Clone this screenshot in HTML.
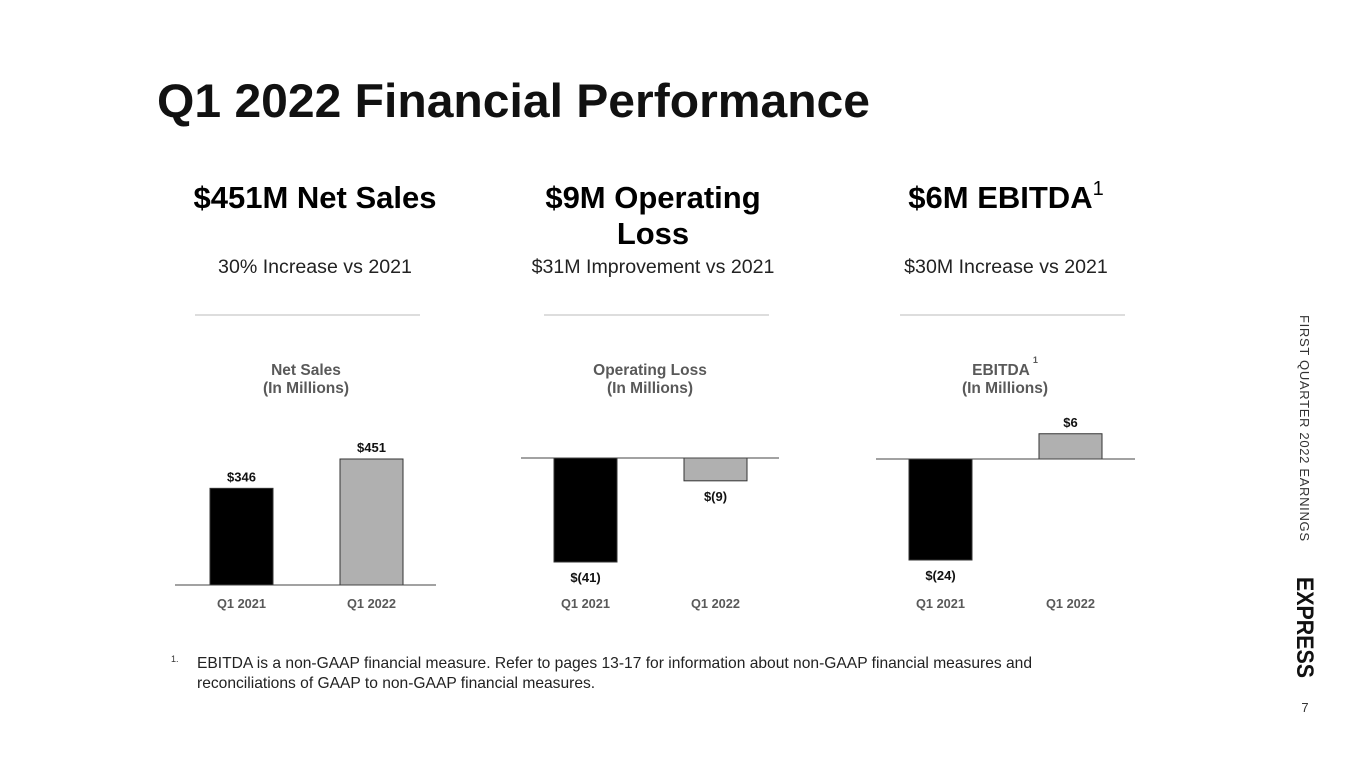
<!DOCTYPE html>
<html><head><meta charset="utf-8"><style>
html,body{margin:0;padding:0;background:#fff;}
svg{display:block;font-family:"Liberation Sans",Arial,sans-serif;}
</style></head><body>
<svg width="1365" height="768" viewBox="0 0 1365 768" xmlns="http://www.w3.org/2000/svg" id="slide">
<text x="157" y="117" font-size="47" font-weight="bold" fill="#111" textLength="713" lengthAdjust="spacingAndGlyphs">Q1 2022 Financial Performance</text>

<text x="315" y="208" font-size="31" font-weight="bold" text-anchor="middle">$451M Net Sales</text>
<text x="315" y="273" font-size="19.6" text-anchor="middle" fill="#222">30% Increase vs 2021</text>
<line x1="195" y1="315" x2="420" y2="315" stroke="#bbb"/>

<text x="653" y="208" font-size="31" font-weight="bold" text-anchor="middle">$9M Operating</text>
<text x="653" y="244" font-size="31" font-weight="bold" text-anchor="middle">Loss</text>
<text x="653" y="273" font-size="19.6" text-anchor="middle" fill="#222">$31M Improvement vs 2021</text>
<line x1="544" y1="315" x2="769" y2="315" stroke="#bbb"/>

<text x="1006" y="208" font-size="31" font-weight="bold" text-anchor="middle">$6M EBITDA<tspan font-size="20" font-weight="normal" dy="-13">1</tspan></text>
<text x="1006" y="273" font-size="19.6" text-anchor="middle" fill="#222">$30M Increase vs 2021</text>
<line x1="900" y1="315" x2="1125" y2="315" stroke="#bbb"/>

<text x="306" y="375" font-size="15.5" font-weight="bold" fill="#595959" text-anchor="middle">Net Sales</text>
<text x="306" y="393" font-size="15.5" font-weight="bold" fill="#595959" text-anchor="middle">(In Millions)</text>
<text x="650" y="375" font-size="15.5" font-weight="bold" fill="#595959" text-anchor="middle">Operating Loss</text>
<text x="650" y="393" font-size="15.5" font-weight="bold" fill="#595959" text-anchor="middle">(In Millions)</text>
<text x="1005" y="375" font-size="15.5" font-weight="bold" fill="#595959" text-anchor="middle">EBITDA<tspan font-size="9" dy="-12" dx="3">1</tspan></text>
<text x="1005" y="393" font-size="15.5" font-weight="bold" fill="#595959" text-anchor="middle">(In Millions)</text>

<g id="charts"></g>

<text x="171" y="662" font-size="9" fill="#333">1.</text>
<text x="197" y="668" font-size="15.6" fill="#222">EBITDA is a non-GAAP financial measure. Refer to pages 13-17 for information about non-GAAP financial measures and</text>
<text x="197" y="688" font-size="15.6" fill="#222">reconciliations of GAAP to non-GAAP financial measures.</text>

<text transform="translate(1300,315) rotate(90)" font-size="13" fill="#333" textLength="226">FIRST QUARTER 2022 EARNINGS</text>
<text transform="translate(1297,577) rotate(90)" font-size="24" font-weight="900" fill="#111" textLength="101" lengthAdjust="spacingAndGlyphs">EXPRESS</text>
<text x="1305" y="712" font-size="13" fill="#333" text-anchor="middle">7</text>
</svg>
<script>
const categories = ["Q1 2021", "Q1 2022"];
const netSalesValues = [346, 451];
const netSalesLabels = ["$346", "$451"];
const opLossValues = [-41, -9];
const opLossLabels = ["$(41)", "$(9)"];
const ebitdaValues = [-24, 6];
const ebitdaLabels = ["$(24)", "$6"];

const NS = "http://www.w3.org/2000/svg";
const root = document.getElementById('charts');
function mk(tag, attrs, parent){const e=document.createElementNS(NS,tag);for(const k in attrs)e.setAttribute(k,attrs[k]);parent.appendChild(e);return e;}

const charts = [
  {key:'net-sales', vals:netSalesValues, labels:netSalesLabels, base:585, scale:126/451, axis:[175,436], bars:[210,340]},
  {key:'operating-loss', vals:opLossValues, labels:opLossLabels, base:458, scale:104/41, axis:[521,779], bars:[554,684]},
  {key:'ebitda', vals:ebitdaValues, labels:ebitdaLabels, base:459, scale:101/24, axis:[876,1135], bars:[909,1039]}
];
const colors = ['#000', '#b0b0b0'];
charts.forEach(c=>{
  const g = mk('g',{},root);
  
  
  const y = v => c.base - v*c.scale;
  c.vals.forEach((v,i)=>{
    const x = c.bars[i], w = 63;
    const top = Math.min(y(v), y(0)), h = Math.abs(y(v)-y(0));
    const r = mk('rect',{x:x,y:top,width:w,height:h,fill:colors[i],stroke:'#333','stroke-width':1},g);
    
    
    const ly = v>=0 ? y(v)-7 : y(v)+20;
    const t = mk('text',{x:x+w/2,y:ly,'font-size':13,'font-weight':'bold','text-anchor':'middle',fill:'#111'},g);
    t.textContent = c.labels[i];
    
    
    const ct = mk('text',{x:x+w/2,y:608,'font-size':12.8,'font-weight':'bold','text-anchor':'middle',fill:'#595959'},g);
    ct.textContent = categories[i];
    
    
  });
  const ax = mk('line',{x1:c.axis[0],x2:c.axis[1],y1:y(0),y2:y(0),stroke:'#444','stroke-width':1},g);
  
  
});
</script>
</body></html>
